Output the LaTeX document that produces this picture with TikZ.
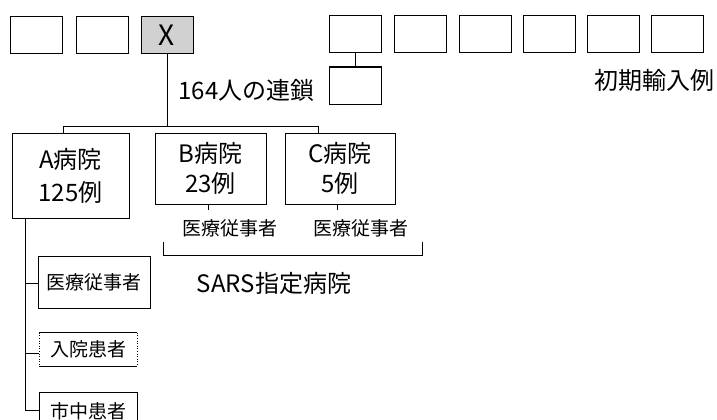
\documentclass[tikz,border=0pt]{standalone}
\usepackage{fontspec}
\setmainfont{Noto Sans CJK JP}
\begin{document}
\begin{tikzpicture}[x=1pt,y=-1pt,
  box/.style={draw, line width=1pt, inner sep=0pt},
  conn/.style={line width=1pt},
  big/.style={font=\fontsize{24}{30}\selectfont},
  mid/.style={font=\fontsize{19}{22}\selectfont},
  topbox/.style={box, minimum width=52, minimum height=37}]
\clip (0,0) rectangle (717,420);
\fill[white] (0,0) rectangle (717,420);
% top left boxes
\node[topbox] (t1) at (36.5,35.5) {};
\node[topbox] (t2) at (102,35.5) {};
\node[topbox, fill=black!18, font=\fontsize{28}{30}\selectfont] (X) at (167,35.5) {X};
% top right boxes
\node[topbox] (r1) at (355.5,34) {};
\node[topbox] (r2) at (420,34) {};
\node[topbox] (r3) at (485,34) {};
\node[topbox] (r4) at (549,34) {};
\node[topbox] (r5) at (613.5,34) {};
\node[topbox] (r6) at (677.5,34) {};
\node[topbox] (rb) at (355.5,85.5) {};
\draw[conn] (r1.south) -- (rb.north);
\node[big, anchor=west] (chain) at (175,90) {164人の連鎖};
\node[big, anchor=west] (init) at (591,80) {初期輸入例};
% hospitals
\node[box, font=\fontsize{24}{33}\selectfont, align=center, minimum width=117, minimum height=85] (A) at (70.5,175.5) {A病院\\125例};
\node[box, big, align=center, minimum width=111, minimum height=71] (B) at (210.5,168.5) {B病院\\23例};
\node[box, big, align=center, minimum width=110, minimum height=71] (C) at (340,168.5) {C病院\\5例};
\coordinate (j) at (167,126);
\coordinate (ja) at (63,126);
\coordinate (jc) at (318,126);
\draw[conn] (X.south) -- (j);
\draw[conn] (ja |- A.north) -- (ja) -- (jc) -- (jc |- C.north);
% staff labels under B and C
\node[mid] (bl) at (230,228) {医療従事者};
\node[mid] (cl) at (361,228) {医療従事者};
\coordinate (bt) at (208,210);
\coordinate (ct) at (337,210);
\draw[conn] (bt |- B.south) -- (bt);
\draw[conn] (ct |- C.south) -- (ct);
% bracket
\coordinate (bk1) at (163,242);
\coordinate (bk2) at (422,242);
\draw[conn] (bk1) |- (bk2 |- 0,255) -- (bk2);
\node[big] (sars) at (274,283) {SARS指定病院};
% A hospital branches
\node[box, mid, minimum width=112, minimum height=52] (m1) at (94,282) {医療従事者};
\node[mid, minimum width=98, minimum height=33, inner sep=0pt] (m2) at (88,349.5) {入院患者};
\draw[line width=0.8pt] (m2.north west) -- (m2.north east);
\draw[line width=0.8pt] (m2.south west) -- (m2.south east);
\draw[line width=0.6pt, dotted] (m2.north west) -- (m2.south west);
\draw[line width=0.6pt, dotted] (m2.north east) -- (m2.south east);
\node[box, mid, minimum width=98, minimum height=38] (m3) at (88,411) {市中患者};
\coordinate (av) at (25,410);
\coordinate (b1) at (25,283);
\coordinate (b2) at (25,353);
\draw[conn] (av |- A.south) -- (av) -- (av -| m3.west);
\draw[conn] (b1) -- (b1 -| m1.west);
\draw[conn] (b2) -- (b2 -| m2.west);
\end{tikzpicture}
\end{document}
